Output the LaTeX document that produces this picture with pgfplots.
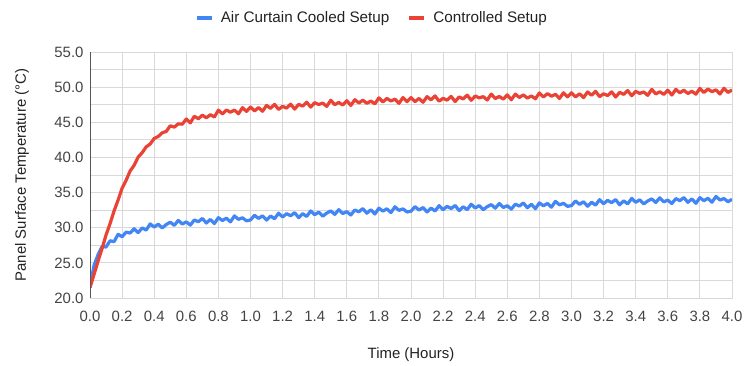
\documentclass[border=0pt]{standalone}
\usepackage{fontspec}
\setmainfont{Liberation Sans}
\usepackage{pgfplots}
\usepackage{pgfplotstable}
\pgfplotsset{compat=1.18}
\definecolor{gblue}{HTML}{4285F4}
\definecolor{gred}{HTML}{EA4335}
\definecolor{gridc}{HTML}{D9D9D9}
\definecolor{axisc}{HTML}{555555}
\definecolor{labc}{HTML}{444444}
\definecolor{titc}{HTML}{222222}

\pgfplotstableread{
t T
0.000 21.50
0.025 24.65
0.050 26.15
0.075 27.31
0.100 27.26
0.125 28.14
0.150 28.02
0.175 29.06
0.200 28.72
0.225 29.37
0.250 29.24
0.275 29.85
0.300 29.30
0.325 29.97
0.350 29.66
0.375 30.54
0.400 30.10
0.425 30.50
0.450 29.97
0.475 30.45
0.500 30.79
0.525 30.33
0.550 31.04
0.575 30.53
0.600 30.83
0.625 30.37
0.650 31.10
0.675 30.85
0.700 31.32
0.725 30.67
0.750 31.18
0.775 30.59
0.800 31.43
0.825 31.02
0.850 31.36
0.875 30.83
0.900 31.68
0.925 31.19
0.950 31.41
0.975 30.98
1.000 31.10
1.025 31.77
1.050 31.32
1.075 31.69
1.100 31.09
1.125 31.66
1.150 31.28
1.175 32.07
1.200 31.52
1.225 32.00
1.250 31.70
1.275 32.14
1.300 31.43
1.325 32.00
1.350 31.60
1.375 32.38
1.400 31.85
1.425 32.21
1.450 31.64
1.475 32.08
1.500 32.39
1.525 31.90
1.550 32.57
1.575 32.02
1.600 32.28
1.625 31.81
1.650 32.52
1.675 32.26
1.700 32.72
1.725 32.06
1.750 32.56
1.775 31.95
1.800 32.78
1.825 32.36
1.850 32.69
1.875 32.15
1.900 32.98
1.925 32.47
1.950 32.68
1.975 32.24
2.000 32.35
2.025 33.00
2.050 32.52
2.075 32.87
2.100 32.24
2.125 32.78
2.150 32.38
2.175 33.14
2.200 32.57
2.225 33.04
2.250 32.73
2.275 33.16
2.300 32.43
2.325 32.98
2.350 32.57
2.375 33.34
2.400 32.80
2.425 33.15
2.450 32.57
2.475 33.00
2.500 33.29
2.525 32.78
2.550 33.44
2.575 32.88
2.600 33.13
2.625 32.65
2.650 33.35
2.675 33.08
2.700 33.52
2.725 32.84
2.750 33.33
2.775 32.71
2.800 33.53
2.825 33.12
2.850 33.45
2.875 32.92
2.900 33.75
2.925 33.26
2.950 33.47
2.975 33.04
3.000 33.15
3.025 33.81
3.050 33.33
3.075 33.69
3.100 33.06
3.125 33.62
3.150 33.22
3.175 33.99
3.200 33.42
3.225 33.89
3.250 33.57
3.275 34.00
3.300 33.26
3.325 33.82
3.350 33.40
3.375 34.17
3.400 33.62
3.425 33.97
3.450 33.39
3.475 33.81
3.500 34.10
3.525 33.59
3.550 34.25
3.575 33.68
3.600 33.93
3.625 33.44
3.650 34.14
3.675 33.86
3.700 34.29
3.725 33.61
3.750 34.10
3.775 33.47
3.800 34.28
3.825 33.85
3.850 34.18
3.875 33.63
3.900 34.45
3.925 33.94
3.950 34.15
3.975 33.70
4.000 34.05
}\bluedata

\pgfplotstableread{
t T
0.000 21.50
0.025 23.34
0.050 25.23
0.075 27.02
0.100 28.97
0.125 30.58
0.150 32.39
0.175 33.93
0.200 35.62
0.225 36.75
0.250 38.07
0.275 38.88
0.300 40.05
0.325 40.67
0.350 41.50
0.375 41.91
0.400 42.70
0.425 42.98
0.450 43.50
0.475 43.70
0.500 44.50
0.525 44.31
0.550 44.78
0.575 44.73
0.600 45.47
0.625 44.92
0.650 45.85
0.675 45.51
0.700 46.01
0.725 45.64
0.750 46.08
0.775 45.76
0.800 46.72
0.825 46.20
0.850 46.74
0.875 46.43
0.900 46.74
0.925 46.21
0.950 47.08
0.975 46.55
1.000 47.17
1.025 46.61
1.050 47.09
1.075 46.57
1.100 47.40
1.125 46.98
1.150 47.55
1.175 46.83
1.200 47.26
1.225 47.02
1.250 47.58
1.275 46.87
1.300 47.55
1.325 47.30
1.350 47.86
1.375 47.16
1.400 47.79
1.425 47.53
1.450 47.73
1.475 47.26
1.500 48.13
1.525 47.51
1.550 47.82
1.575 47.46
1.600 48.07
1.625 47.40
1.650 48.21
1.675 47.75
1.700 48.14
1.725 47.70
1.750 48.02
1.775 47.63
1.800 48.47
1.825 47.90
1.850 48.39
1.875 48.03
1.900 48.29
1.925 47.70
1.950 48.52
1.975 47.94
2.000 48.52
2.025 47.94
2.050 48.39
2.075 47.85
2.100 48.65
2.125 48.20
2.150 48.75
2.175 48.00
2.200 48.41
2.225 48.15
2.250 48.68
2.275 47.95
2.300 48.61
2.325 48.32
2.350 48.86
2.375 48.13
2.400 48.74
2.425 48.47
2.450 48.65
2.475 48.17
2.500 49.01
2.525 48.38
2.550 48.67
2.575 48.30
2.600 48.90
2.625 48.21
2.650 49.01
2.675 48.53
2.700 48.90
2.725 48.44
2.750 48.75
2.775 48.34
2.800 49.17
2.825 48.60
2.850 49.08
2.875 48.72
2.900 48.97
2.925 48.39
2.950 49.20
2.975 48.62
3.000 49.20
3.025 48.61
3.050 49.06
3.075 48.51
3.100 49.31
3.125 48.86
3.150 49.41
3.175 48.65
3.200 49.06
3.225 48.80
3.250 49.33
3.275 48.60
3.300 49.26
3.325 48.97
3.350 49.51
3.375 48.78
3.400 49.39
3.425 49.12
3.450 49.31
3.475 48.83
3.500 49.68
3.525 49.04
3.550 49.34
3.575 48.97
3.600 49.57
3.625 48.88
3.650 49.68
3.675 49.20
3.700 49.56
3.725 49.10
3.750 49.41
3.775 49.00
3.800 49.82
3.825 49.24
3.850 49.73
3.875 49.36
3.900 49.61
3.925 49.02
3.950 49.84
3.975 49.25
4.000 49.60
}\reddata

\begin{document}
\begin{tikzpicture}
\useasboundingbox (0,0) rectangle (744bp,366bp);
\begin{axis}[
  at={(90bp,68bp)}, anchor=south west,
  width=642bp, height=246bp, scale only axis,
  xmin=0, xmax=4, ymin=20, ymax=55,
  xtick={0,0.2,0.4,0.6,0.8,1.0,1.2,1.4,1.6,1.8,2.0,2.2,2.4,2.6,2.8,3.0,3.2,3.4,3.6,3.8,4.0},
  ytick={20,25,30,35,40,45,50,55},
  minor ytick={22.5,27.5,32.5,37.5,42.5,47.5,52.5},
  grid=both,
  major grid style={gridc, line width=0.9bp},
  minor grid style={gridc, line width=0.9bp},
  major tick length=0pt, minor tick length=0pt,
  axis line style={gridc, line width=0.9bp},
  tick label style={font=\fontsize{15}{18}\selectfont, text=labc},
  xticklabel style={/pgf/number format/.cd, fixed, fixed zerofill, precision=1, assume math mode=true, /tikz/.cd, yshift=-10bp},
  yticklabel style={/pgf/number format/.cd, fixed, fixed zerofill, precision=1, assume math mode=true, /tikz/.cd, xshift=-3bp},
  xlabel={Time (Hours)},
  xlabel style={at={(axis description cs:0.5,-0.232)}, anchor=center, font=\fontsize{15}{18}\selectfont, text=titc},
  ylabel={Panel Surface Temperature (°C)},
  ylabel style={at={(axis description cs:-0.106,0.5)}, anchor=center, font=\fontsize{15}{18}\selectfont, text=titc},
  legend style={at={(axis description cs:0.439,1.138)}, anchor=center, legend columns=2, draw=none, fill=none,
    font=\fontsize{15.3}{18}\selectfont, text=titc,
    /tikz/every odd column/.append style={column sep=5bp},
    /tikz/every even column/.append style={column sep=16bp}},
  legend image code/.code={\draw[#1, line width=4bp] (0bp,0bp) -- (15bp,0bp);},
  clip=true,
]
\addplot[gblue, line width=3.2bp, line join=round, mark=none] table[x=t, y=T] {\bluedata};
\addlegendentry{Air Curtain Cooled Setup}
\addplot[gred, line width=3.2bp, line join=round, mark=none] table[x=t, y=T] {\reddata};
\addlegendentry{Controlled Setup}
\draw[axisc, line width=1.3bp] (rel axis cs:0,0) -- (rel axis cs:0,1);
\end{axis}
\end{tikzpicture}
\end{document}
